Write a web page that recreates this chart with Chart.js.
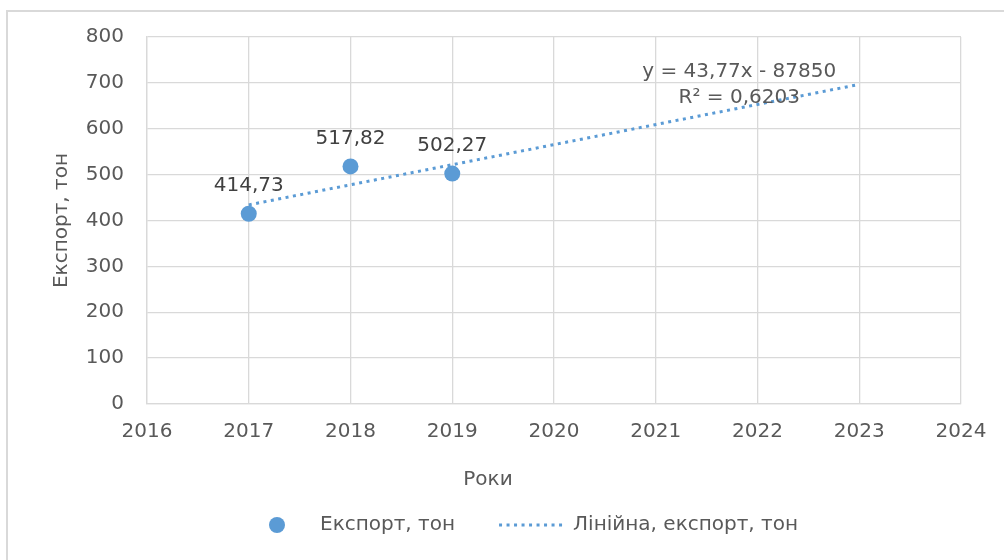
<!DOCTYPE html>
<html>
<head>
<meta charset="utf-8">
<script src="https://cdn.jsdelivr.net/npm/chart.js@4"></script>
<style>
  body { margin: 0; background: #fff; }
  #frame {
    position: absolute; left: 6px; top: 10px;
    width: 1100px; height: 600px;
    border: 2px solid #d9d9d9;
  }
  #wrap { position: absolute; left: 0; top: 0; width: 1004px; height: 560px; }
</style>
</head>
<body>
<div id="frame"></div>
<div id="wrap"><canvas id="exportChart" width="1004" height="560"></canvas></div>
<script>
// Export volume by year
const years = [2017, 2018, 2019];
const exportTons = [414.73, 517.82, 502.27];

// Linear trend as reported: y = 43,77x - 87850, R² = 0,6203
const trendSlope = 43.77;
const trendIntercept = -87850;
const trendR2 = 0.6203;
const trendYears = [2017, 2023];

const xMin = 2016, xMax = 2024;
const yMin = 0, yMax = 800, yStep = 100;

const seriesName = "Експорт, тон";
const trendName = "Лінійна, експорт, тон";
const xTitle = "Роки";
const yTitle = "Експорт, тон";

const blue = "#5b9bd5";
const textGrey = "#595959";
const gridGrey = "#d9d9d9";
const font = "DejaVu Sans";

function comma(v, digits) {
  return v.toFixed(digits).replace(".", ",");
}

const points = years.map((yr, i) => ({ x: yr, y: exportTons[i] }));
const trendPoints = trendYears.map((yr) => ({
  x: yr,
  y: trendSlope * yr + trendIntercept,
}));

// value labels over the points + trend equation near the line end
const labelsPlugin = {
  id: "labels",
  afterDatasetsDraw(chart) {
    const ctx = chart.ctx;
    ctx.save();
    ctx.font = `20px "${font}"`;
    ctx.textAlign = "center";
    ctx.textBaseline = "middle";

    ctx.fillStyle = "#404040";
    chart.getDatasetMeta(0).data.forEach((pt, i) => {
      ctx.fillText(comma(exportTons[i], 2), pt.x, pt.y - 28);
    });

    const end = chart.getDatasetMeta(1).data[1];
    ctx.fillStyle = textGrey;
    const sign = trendIntercept < 0 ? "-" : "+";
    ctx.fillText(
      `y = ${comma(trendSlope, 2)}x ${sign} ${Math.abs(trendIntercept)}`,
      end.x - 120, end.y - 13
    );
    ctx.fillText(`R² = ${comma(trendR2, 4)}`, end.x - 120, end.y + 13);
    ctx.restore();
  },
};

// x axis title and legend row at the bottom
const legendPlugin = {
  id: "bottomLegend",
  afterDraw(chart) {
    const ctx = chart.ctx;
    ctx.save();
    ctx.font = `20px "${font}"`;
    ctx.textBaseline = "middle";

    ctx.fillStyle = textGrey;
    ctx.textAlign = "center";
    ctx.fillText(xTitle, 488, 480);

    const cy = 525;
    let x = 244;
    ctx.textAlign = "left";
    ctx.fillStyle = blue;
    ctx.beginPath();
    ctx.arc(x + 33, cy, 8, 0, Math.PI * 2);
    ctx.fill();
    x += 76;
    ctx.fillStyle = textGrey;
    ctx.fillText(seriesName, x, cy);
    x += ctx.measureText(seriesName).width + 44;

    ctx.strokeStyle = blue;
    ctx.lineWidth = 3;
    ctx.setLineDash([3, 4.5]);
    ctx.beginPath();
    ctx.moveTo(x, cy);
    ctx.lineTo(x + 66, cy);
    ctx.stroke();
    ctx.setLineDash([]);
    x += 74;
    ctx.fillText(trendName, x, cy);
    ctx.restore();
  },
};

const ctx = document.getElementById("exportChart").getContext("2d");
new Chart(ctx, {
  type: "scatter",
  data: {
    datasets: [
      {
        label: seriesName,
        data: points,
        backgroundColor: blue,
        borderColor: blue,
        pointRadius: 8,
        pointHoverRadius: 8,
        borderWidth: 0,
        order: 1,
      },
      {
        label: trendName,
        data: trendPoints,
        type: "line",
        showLine: true,
        borderColor: blue,
        borderWidth: 3,
        borderDash: [3, 4.5],
        pointRadius: 0,
        fill: false,
        order: 0,
      },
    ],
  },
  options: {
    responsive: false,
    animation: false,
    layout: { padding: { top: 37, right: 43, bottom: 56, left: 0 } },
    plugins: {
      legend: { display: false },
      tooltip: { enabled: false },
    },
    scales: {
      x: {
        type: "linear",
        min: xMin,
        max: xMax,
        afterFit: (scale) => { scale.height = 100; },
        ticks: {
          stepSize: 1,
          color: textGrey,
          font: { family: font, size: 20 },
          padding: 16,
          callback: (v) => String(v),
        },
        grid: { color: gridGrey, lineWidth: 1.3, drawTicks: false },
        border: { color: gridGrey, width: 1.3 },
      },
      y: {
        min: yMin,
        max: yMax,
        afterFit: (scale) => { scale.width = 147; },
        ticks: {
          stepSize: yStep,
          color: textGrey,
          font: { family: font, size: 20 },
          padding: 23,
        },
        grid: { color: gridGrey, lineWidth: 1.3, drawTicks: false },
        border: { color: gridGrey, width: 1.3 },
        title: {
          display: true,
          text: yTitle,
          color: textGrey,
          font: { family: font, size: 20 },
          padding: { top: 50, bottom: 0 },
        },
      },
    },
  },
  plugins: [labelsPlugin, legendPlugin],
});
</script>
</body>
</html>
